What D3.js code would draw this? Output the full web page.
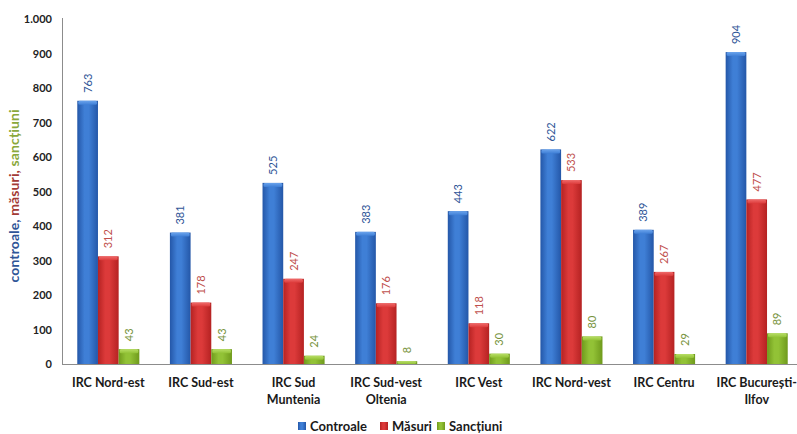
<!DOCTYPE html>
<html><head><meta charset="utf-8">
<script src="https://cdn.jsdelivr.net/npm/d3@7"></script>
<style>
html,body{margin:0;padding:0;background:#fff;}
svg{display:block;font-family:Lato,"Open Sans",sans-serif;}
</style></head>
<body>
<svg id="chart" width="797" height="434"></svg>
<script>
const categories = [["IRC Nord-est"],["IRC Sud-est"],["IRC Sud","Muntenia"],["IRC Sud-vest","Oltenia"],["IRC Vest"],["IRC Nord-vest"],["IRC Centru"],["IRC București-","Ilfov"]];
const seriesNames = ["Controale","Măsuri","Sancțiuni"];
const controale = [763,381,525,383,443,622,389,904];
const masuri = [312,178,247,176,118,533,267,477];
const sanctiuni = [43,43,24,8,30,80,29,89];
const yTicks = [0,100,200,300,400,500,600,700,800,900,1000];
const yTickLabels = ["0","100","200","300","400","500","600","700","800","900","1.000"];

const seriesValues = [controale, masuri, sanctiuni];
const palette = [
  {dark:"#2457a8", mid:"#3f7fd6", light:"#6aa3ec", label:"#2f5597"},
  {dark:"#b52222", mid:"#dc3a3a", light:"#ef6a6a", label:"#c0504d"},
  {dark:"#6f9a1c", mid:"#92c236", light:"#b8de66", label:"#77933c"}
];

const svg = d3.select("#chart");
const pL = 62, pR = 803, pT = 19, pB = 364;

const x0 = d3.scaleBand().domain(d3.range(categories.length)).range([pL, pR]).paddingInner(0.33).paddingOuter(0.165);
const x1 = d3.scaleBand().domain(d3.range(3)).range([0, x0.bandwidth()]);
const y = d3.scaleLinear().domain([0,1000]).range([pB, pT]);

const defs = svg.append("defs");
palette.forEach((p,i)=>{
  const g = defs.append("linearGradient").attr("id","g"+i).attr("x1","0").attr("x2","1").attr("y1","0").attr("y2","0");
  g.append("stop").attr("offset","0%").attr("stop-color",p.dark);
  g.append("stop").attr("offset","35%").attr("stop-color",p.mid);
  g.append("stop").attr("offset","55%").attr("stop-color",p.mid);
  g.append("stop").attr("offset","100%").attr("stop-color",p.dark);
  const t = defs.append("linearGradient").attr("id","t"+i).attr("x1","0").attr("x2","0").attr("y1","0").attr("y2","1");
  t.append("stop").attr("offset","0%").attr("stop-color",p.light);
  t.append("stop").attr("offset","100%").attr("stop-color",p.mid);
});

// axes lines
svg.append("line").attr("x1",pL+0.5).attr("x2",pL+0.5).attr("y1",pT-1).attr("y2",pB).attr("stroke","#8c8c8c");
svg.append("line").attr("x1",pL).attr("x2",797).attr("y1",pB+0.5).attr("y2",pB+0.5).attr("stroke","#8c8c8c");

const yAxis = d3.axisLeft(y).tickValues(yTicks).tickSize(0).tickPadding(10).tickFormat((d,i)=>yTickLabels[i]);
const ya = svg.append("g").attr("transform",`translate(${pL},0)`).call(yAxis);
ya.select(".domain").remove();
ya.selectAll("text").attr("font-size",11).attr("font-weight","bold").attr("fill","#222").attr("font-family","Lato,sans-serif");

// bars
const groups = svg.selectAll("g.grp").data(categories).enter().append("g").attr("class","grp")
  .attr("transform",(d,i)=>`translate(${x0(i)},0)`);

seriesValues.forEach((vals,s)=>{
  groups.append("rect")
    .attr("x",x1(s)).attr("width",x1.bandwidth())
    .attr("y",(d,i)=>y(vals[i])).attr("height",(d,i)=>pB-y(vals[i]))
    .attr("fill",`url(#g${s})`);
  groups.append("rect")
    .attr("x",x1(s)+1).attr("width",x1.bandwidth()-2)
    .attr("y",(d,i)=>y(vals[i])).attr("height",(d,i)=>Math.min(4,pB-y(vals[i])))
    .attr("rx",1.5)
    .attr("fill",`url(#t${s})`);
  groups.append("text")
    .attr("transform",(d,i)=>`translate(${x1(s)+x1.bandwidth()/2+4},${y(vals[i])-8}) rotate(-90)`)
    .attr("font-size",11).attr("fill",palette[s].label)
    .text((d,i)=>vals[i]);
});

// category labels
categories.forEach((lines,i)=>{
  const cx = x0(i)+x0.bandwidth()/2;
  const t = svg.append("text").attr("text-anchor","middle").attr("font-size",12.5).attr("font-weight","bold").attr("fill","#1a1a1a")
    .attr("x",cx).attr("y",387);
  lines.forEach((l,k)=>t.append("tspan").attr("x",cx).attr("dy",k===0?0:16.5).text(l));
});

// y title
const yt = svg.append("text").attr("transform","translate(19,196) rotate(-90)").attr("text-anchor","middle")
  .attr("font-size",14).attr("font-weight","bold").attr("textLength",173).attr("lengthAdjust","spacing");
yt.append("tspan").attr("fill","#2f5597").text("controale, ");
yt.append("tspan").attr("fill","#a33a35").text("măsuri, ");
yt.append("tspan").attr("fill","#8aa83c").text("sancțiuni");

// legend
const legX = [298, 380, 437];
seriesNames.forEach((n,s)=>{
  const g = svg.append("g").attr("transform",`translate(${legX[s]},422)`);
  g.append("rect").attr("width",8).attr("height",8).attr("fill",`url(#g${s})`);
  g.append("text").attr("x",12).attr("y",8.5).attr("font-size",13).attr("font-weight","bold").attr("fill","#1a1a1a").text(n);
});
</script>
</body></html>
